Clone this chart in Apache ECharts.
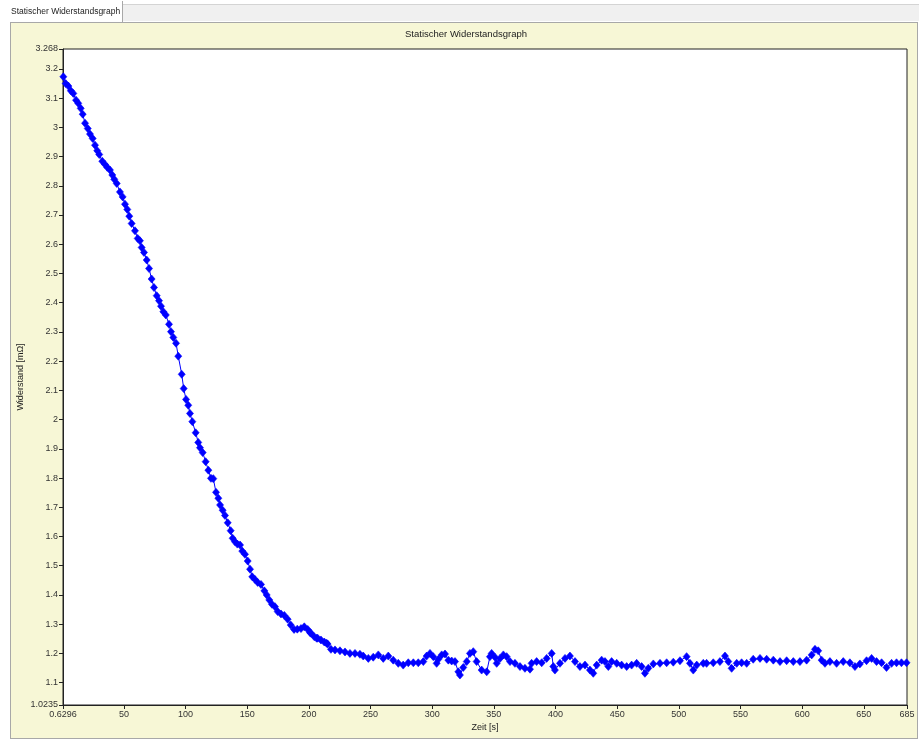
<!DOCTYPE html>
<html>
<head>
<meta charset="utf-8">
<title>Statischer Widerstandsgraph</title>
<script src="https://cdn.jsdelivr.net/npm/echarts@6/dist/echarts.min.js"></script>
<style>
  html, body { margin: 0; padding: 0; background: #fff; }
  #wrap { position: relative; width: 919px; height: 740px; overflow: hidden; }
  .tabstrip { position: absolute; left: 122px; top: 4px; width: 796px; height: 16px;
    background: #f0f0f0; border: 1px solid #d4d4d4; border-bottom: none; }
  .tab { position: absolute; left: 0; top: 1px; width: 122px; height: 21px;
    background: #fff; border-right: 1px solid #a8a8a8; }
  .panel { position: absolute; left: 10px; top: 22px; width: 906px; height: 715px;
    background: #f7f7d6; border: 1px solid #a8a8a8; }
  #chart { position: absolute; left: 0; top: 0; width: 919px; height: 740px; }
</style>
</head>
<body>
<div id="wrap">
  <div class="tabstrip"></div>
  <div class="tab"></div>
  <div class="panel"></div>
  <div id="chart"></div>
</div>
<script>
// Zeit [s]
var zeit = [
  0.9, 2.8, 5, 7, 9, 11.2, 13, 15, 16.6, 18.5, 20.7, 22.5, 24.7, 26.6, 28.4, 30,
  32.5, 34.7, 36.5, 38.7, 40.6, 42.2, 44.2, 46.8, 49, 50.9, 52.8, 54.4, 56.3, 59,
  61.2, 63, 64.4, 66.3, 68.5, 70.4, 72.5, 74.4, 76.6, 78.5, 80.1, 82, 84, 86.6,
  88.2, 90.1, 92.3, 94.1, 96.9, 98.5, 100.4, 102.2, 103.6, 105.5, 108.2, 110.3,
  111.7, 113.9, 116.3, 118.5, 120.6, 122.5, 124.7, 126.6, 128, 130.1, 132, 134.2,
  136.6, 138.2, 140.1, 142, 144.2, 146, 148.2, 150.4, 152.3, 154.1, 156.3, 158.5,
  161.2, 163.9, 165.8, 167.9, 170.1, 172.5, 174.7, 177.4, 180.1, 182.8, 185.3,
  188, 190.6, 193.6, 196.3, 199.1, 201, 201.7, 204.4, 206.3, 207.1, 209.8, 212.5,
  214.4, 215.2, 217.9, 221.2, 225.2, 229.3, 233.3, 237.4, 241.4, 244.1, 248.2,
  252.2, 256.3, 260.3, 264.4, 268.4, 272.5, 276.5, 280.6, 284.7, 288.7, 292.8,
  295.5, 298.2, 300.9, 303.6, 305, 307.7, 310.4, 313.1, 315.8, 318.5, 321.2,
  322.5, 325.2, 328, 330.6, 333.3, 336, 340.1, 344.2, 346.8, 348.2, 350.9, 352.3,
  355, 357.7, 360.4, 363.1, 367.1, 371.2, 375.2, 379.3, 380.6, 384.7, 388.8,
  392.8, 396.9, 398.2, 399.5, 403.6, 407.7, 411.7, 415.8, 419.8, 423.9, 427.9,
  430.6, 433.4, 437.4, 440.1, 442.8, 445.5, 449.6, 453.6, 457.7, 461.7, 465.8,
  469.8, 472.5, 475.2, 479.3, 484.7, 490.1, 495.5, 500.9, 506.3, 509, 511.7,
  514.5, 519.8, 522.5, 527.9, 533.3, 537.4, 540.1, 542.8, 546.9, 550.9, 555,
  560.3, 565.8, 571.2, 576.6, 582, 587.4, 592.8, 598.2, 603.6, 607.7, 610.4, 613,
  615.8, 618.5, 622.5, 627.9, 633.3, 638.7, 642.8, 646.8, 652.2, 656.3, 660.3,
  664.4, 668.4, 672.5, 676.5, 680.5, 684.6
];
// Widerstand [mΩ]
var widerstand = [
  3.173, 3.150, 3.141, 3.125, 3.116, 3.093, 3.082, 3.065, 3.045, 3.014, 2.996,
  2.977, 2.962, 2.939, 2.920, 2.907, 2.884, 2.873, 2.863, 2.854, 2.837, 2.822,
  2.808, 2.779, 2.762, 2.737, 2.719, 2.696, 2.671, 2.646, 2.620, 2.612, 2.589,
  2.572, 2.546, 2.517, 2.481, 2.452, 2.424, 2.407, 2.388, 2.369, 2.358, 2.326,
  2.301, 2.281, 2.261, 2.217, 2.155, 2.106, 2.069, 2.049, 2.021, 1.993, 1.955,
  1.922, 1.904, 1.887, 1.856, 1.827, 1.799, 1.798, 1.751, 1.731, 1.708, 1.690,
  1.672, 1.647, 1.620, 1.594, 1.582, 1.574, 1.571, 1.550, 1.539, 1.516, 1.488,
  1.462, 1.453, 1.443, 1.436, 1.414, 1.400, 1.383, 1.368, 1.360, 1.343, 1.335,
  1.330, 1.317, 1.297, 1.282, 1.283, 1.285, 1.291, 1.282, 1.271, 1.269, 1.257,
  1.252, 1.252, 1.246, 1.239, 1.235, 1.232, 1.214, 1.212, 1.209, 1.205, 1.200,
  1.200, 1.197, 1.191, 1.183, 1.187, 1.195, 1.183, 1.191, 1.177, 1.166, 1.160,
  1.168, 1.168, 1.168, 1.172, 1.191, 1.200, 1.189, 1.166, 1.180, 1.195, 1.198,
  1.177, 1.174, 1.172, 1.137, 1.126, 1.152, 1.172, 1.200, 1.206, 1.172, 1.143,
  1.137, 1.189, 1.200, 1.187, 1.166, 1.183, 1.195, 1.189, 1.172, 1.166, 1.155,
  1.149, 1.146, 1.166, 1.172, 1.168, 1.183, 1.200, 1.155, 1.143, 1.166, 1.183,
  1.191, 1.172, 1.155, 1.160, 1.143, 1.132, 1.160, 1.177, 1.172, 1.155, 1.172,
  1.166, 1.160, 1.155, 1.160, 1.166, 1.155, 1.132, 1.149, 1.164, 1.166, 1.168,
  1.170, 1.175, 1.189, 1.166, 1.143, 1.160, 1.166, 1.166, 1.168, 1.172, 1.191,
  1.172, 1.149, 1.166, 1.168, 1.166, 1.180, 1.183, 1.180, 1.177, 1.172, 1.175,
  1.172, 1.172, 1.177, 1.195, 1.214, 1.209, 1.177, 1.166, 1.172, 1.166, 1.172,
  1.168, 1.155, 1.164, 1.175, 1.183, 1.172, 1.168, 1.152, 1.166, 1.168, 1.168,
  1.168
];
var xTicks = [0.6296, 50, 100, 150, 200, 250, 300, 350, 400, 450, 500, 550, 600, 650, 685];
var yTicks = [1.0235, 1.1, 1.2, 1.3, 1.4, 1.5, 1.6, 1.7, 1.8, 1.9, 2, 2.1, 2.2, 2.3,
  2.4, 2.5, 2.6, 2.7, 2.8, 2.9, 3, 3.1, 3.2, 3.268];

var punkte = zeit.map(function (t, i) { return [t, widerstand[i]]; });

var font = '"Liberation Sans", Arial, sans-serif';
var chart = echarts.init(document.getElementById('chart'), null, { renderer: 'canvas' });

chart.setOption({
  animation: false,
  backgroundColor: 'transparent',
  textStyle: { fontFamily: font },
  graphic: [
    { type: 'text', style: { x: 11, y: 12, text: 'Statischer Widerstandsgraph',
        fill: '#222', font: '8.5px ' + font, textVerticalAlign: 'middle' } },
    { type: 'text', style: { x: 466, y: 34, text: 'Statischer Widerstandsgraph',
        fill: '#222', font: '9.5px ' + font, textAlign: 'center', textVerticalAlign: 'middle' } }
  ],
  grid: {
    left: 63, top: 49, right: 12, bottom: 35,
    outerBoundsMode: 'none',
    show: true, backgroundColor: '#fff', borderColor: '#222', borderWidth: 1
  },
  xAxis: {
    type: 'value', min: 0.6296, max: 685,
    name: 'Zeit [s]', nameLocation: 'middle', nameGap: 18, nameMoveOverlap: false,
    nameTextStyle: { fontSize: 9, color: '#222' },
    axisLine: { lineStyle: { color: '#222' } },
    axisTick: { show: true, length: 4, customValues: xTicks, lineStyle: { color: '#222' } },
    axisLabel: { customValues: xTicks, fontSize: 9, color: '#333', margin: 5,
      formatter: function (v) { return String(v); } },
    splitLine: { show: false }
  },
  yAxis: {
    type: 'value', min: 1.0235, max: 3.268,
    name: 'Widerstand [mΩ]', nameLocation: 'middle', nameGap: 38, nameMoveOverlap: false,
    nameTextStyle: { fontSize: 9, color: '#222' },
    axisLine: { show: true, lineStyle: { color: '#222' } },
    axisTick: { show: true, length: 4, customValues: yTicks, lineStyle: { color: '#222' } },
    axisLabel: { customValues: yTicks, fontSize: 9, color: '#333', margin: 5,
      formatter: function (v) { return String(v); } },
    splitLine: { show: false }
  },
  series: [{
    type: 'line',
    data: punkte,
    symbol: 'diamond',
    symbolSize: [7, 8],
    showAllSymbol: true,
    itemStyle: { color: '#0000ff', borderColor: '#0000ff', borderWidth: 0.6 },
    lineStyle: { color: '#0000ff', width: 1 }
  }]
});
</script>
</body>
</html>
